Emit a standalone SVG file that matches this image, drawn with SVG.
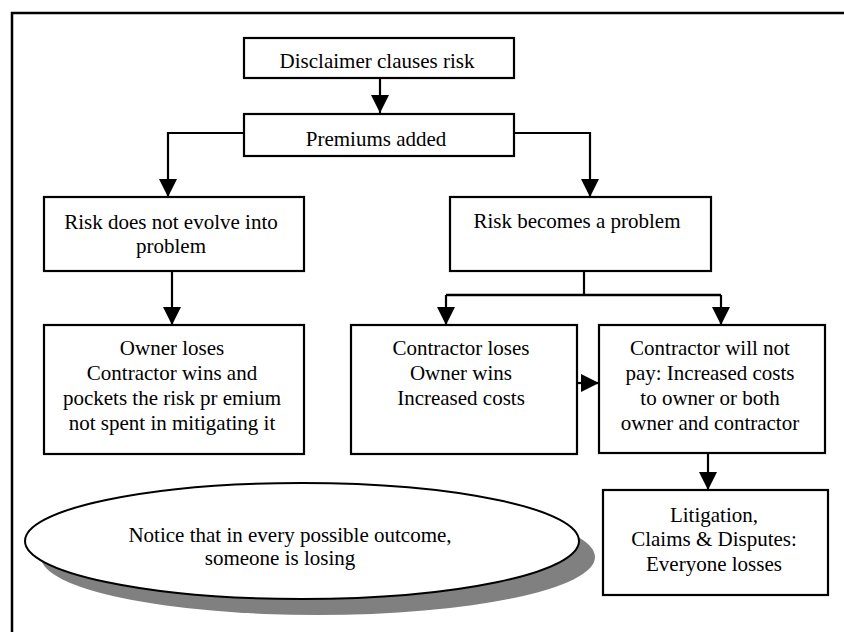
<svg xmlns="http://www.w3.org/2000/svg" width="844" height="632" viewBox="0 0 844 632">
  <style>
    .box { fill: #ffffff; stroke: #000000; stroke-width: 2.2; }
    .wire { fill: none; stroke: #000000; stroke-width: 2.2; }
    text { font-family: 'Liberation Serif', 'Times New Roman', 'DejaVu Serif', serif; font-size: 21px; fill: #000000; text-anchor: middle; }
  </style>
  <defs>
    <marker id="head" markerUnits="userSpaceOnUse" markerWidth="18" markerHeight="18" viewBox="0 0 18 18" refX="18" refY="9" orient="auto">
      <path d="M0,0 L18,9 L0,18 z" fill="#000000"/>
    </marker>
  </defs>

  <rect width="844" height="632" fill="#ffffff"/>
  <!-- outer frame -->
  <rect x="12" y="13" width="840" height="630" fill="none" stroke="#000000" stroke-width="2.5"/>

  <!-- connectors -->
  <g id="connectors">
    <path class="wire" d="M380,78 V113" marker-end="url(#head)"/>
    <path class="wire" d="M244,133 H168 V197" marker-end="url(#head)"/>
    <path class="wire" d="M514,133 H590 V197" marker-end="url(#head)"/>
    <path class="wire" d="M172,271 V325" marker-end="url(#head)"/>
    <path class="wire" d="M584,271 V295"/>
    <path class="wire" d="M446,295 H721" style="stroke-width:2.6"/>
    <path class="wire" d="M446,295 V325" marker-end="url(#head)"/>
    <path class="wire" d="M721,295 V325" marker-end="url(#head)"/>
    <path class="wire" d="M577,383 H599" marker-end="url(#head)"/>
    <path class="wire" d="M708,453 V490" marker-end="url(#head)"/>
  </g>

  <g font-family="Liberation Serif, Times New Roman, serif" font-size="21" text-anchor="middle">
    <g id="disclaimer">
      <rect class="box" x="244" y="38" width="270" height="40"/>
      <text x="377" y="68">Disclaimer clauses risk</text>
    </g>

    <g id="premiums">
      <rect class="box" x="244" y="114" width="270" height="42"/>
      <text x="376" y="146">Premiums added</text>
    </g>

    <g id="no-problem">
      <rect class="box" x="44" y="197" width="260" height="74"/>
      <text x="171" y="229">Risk does not evolve into</text>
      <text x="171" y="253">problem</text>
    </g>

    <g id="problem">
      <rect class="box" x="450" y="197" width="261" height="74"/>
      <text x="577" y="228">Risk becomes a problem</text>
    </g>

    <g id="owner-loses">
      <rect class="box" x="44" y="325" width="260" height="129"/>
      <text x="172" y="355">Owner loses</text>
      <text x="172" y="380">Contractor wins and</text>
      <text x="172" y="405">pockets the risk pr emium</text>
      <text x="172" y="430">not spent in mitigating it</text>
    </g>

    <g id="contractor-loses">
      <rect class="box" x="351" y="325" width="226" height="129"/>
      <text x="461" y="355">Contractor loses</text>
      <text x="461" y="380">Owner wins</text>
      <text x="461" y="405">Increased costs</text>
    </g>

    <g id="contractor-wont-pay">
      <rect class="box" x="599" y="325" width="226" height="128"/>
      <text x="710" y="355">Contractor will not</text>
      <text x="710" y="380">pay: Increased costs</text>
      <text x="710" y="405">to owner or both</text>
      <text x="710" y="430">owner and contractor</text>
    </g>

    <g id="litigation">
      <rect class="box" x="603" y="490" width="225" height="105"/>
      <text x="714" y="522">Litigation,</text>
      <text x="714" y="546">Claims &amp; Disputes:</text>
      <text x="714" y="571">Everyone losses</text>
    </g>

    <g id="note">
      <ellipse cx="318" cy="557" rx="277" ry="58" fill="#808080"/>
      <ellipse cx="302" cy="541" rx="277" ry="58" fill="#ffffff" stroke="#000000" stroke-width="2"/>
      <text x="290" y="542">Notice that in every possible outcome,</text>
      <text x="280" y="565">someone is losing</text>
    </g>
  </g>
</svg>
